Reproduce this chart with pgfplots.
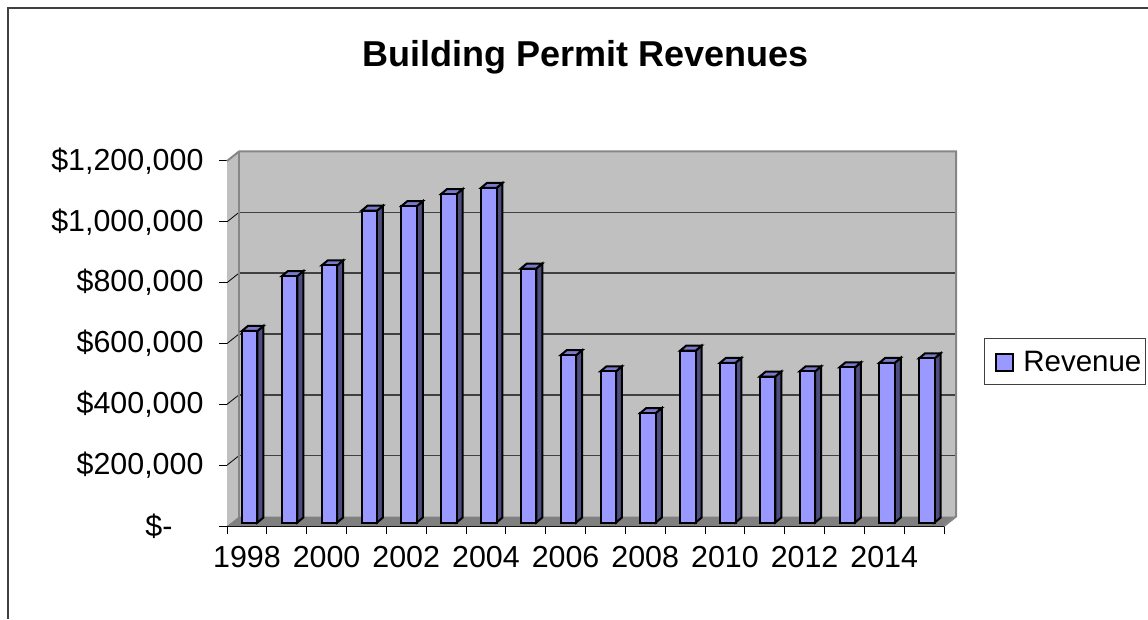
\documentclass[border=0pt]{standalone}
\usepackage{fontspec}
\usepackage{xfp}
\usepackage{pgfplots}
\pgfplotsset{compat=1.18}
\setmainfont{Liberation Sans}

\definecolor{wall}{HTML}{C0C0C0}
\definecolor{wallEdge}{HTML}{868686}
\definecolor{floorGray}{HTML}{808080}
\definecolor{gridDark}{HTML}{404040}
\definecolor{barFront}{HTML}{9999FF}
\definecolor{barSide}{HTML}{4D4D80}
\definecolor{barTop}{HTML}{7A7ACC}

% one picture pixel is 1pt
% year index / revenue
\def\revenues{0/630000,1/810000,2/845000,3/1025000,4/1040000,5/1080000,6/1100000,
  7/835000,8/550000,9/497000,10/360000,11/565000,12/525000,13/480000,14/497000,
  15/510000,16/525000,17/540000}
\def\wallDx{0.3013}
\def\wallDy{31236}
\def\barX{0.3766}
\def\barW{0.389}
\def\barDx{0.15}
\def\barDy{16440}
\def\barBase{11500}

\begin{document}
\begin{tikzpicture}[x=1pt,y=1pt]
\path[use as bounding box] (0,0) rectangle (1148,619);
\draw[gridDark,line width=1.7pt] (8,0) -- (8,611) -- (1148,611);

\begin{axis}[
  at={(227pt,93pt)}, anchor=south west,
  scale only axis, width=717pt, height=365pt,
  xmin=0, xmax=18, ymin=0, ymax=1200000,
  clip=false,
  axis x line=bottom, axis y line=left,
  axis line style={-, black, line width=1pt},
  tick align=outside,
  tick style={black, line width=1pt},
  major tick length=8pt,
  xtick={0,1,...,18},
  xticklabels={},
  extra x ticks={0.5,2.5,4.5,6.5,8.5,10.5,12.5,14.5,16.5},
  extra x tick labels={1998,2000,2002,2004,2006,2008,2010,2012,2014},
  extra x tick style={major tick length=0pt, tick style={draw=none}},
  scaled y ticks=false,
  ytick={0,200000,400000,600000,800000,1000000,1200000},
  yticklabels={{\$-\hspace*{31pt}},{\$200,000},{\$400,000},{\$600,000},{\$800,000},{\$1,000,000},{\$1,200,000}},
  tick label style={font=\fontsize{30.4}{34}\selectfont},
  xticklabel style={yshift=-17pt},
  yticklabel style={xshift=-12pt},
  title={Building Permit Revenues},
  title style={font=\fontsize{36}{40}\bfseries\selectfont,
    at={(axis description cs:0.5,1.242)}, anchor=base},
  legend style={at={(axis description cs:1.0562,0.3863)}, anchor=south west,
    draw=gridDark, line width=1pt, font=\fontsize{29.5}{34}\selectfont,
    inner xsep=2.5pt, inner ysep=10pt},
  legend image code/.code={
    \path[draw=none,fill=none] (0pt,0pt) -- (34pt,0pt);
    \draw[fill=barFront,draw=black,line width=2pt] (9pt,-9pt) rectangle (26pt,8pt);
  },
]
% walls and floor
\addplot[fill=wall,draw=none,forget plot] coordinates
  {(0,0) (\wallDx,\wallDy) (\wallDx,1231236) (0,1200000)} -- cycle;
\addplot[fill=wall,draw=none,forget plot] coordinates
  {(\wallDx,\wallDy) (18.3013,\wallDy) (18.3013,1231236) (\wallDx,1231236)} -- cycle;
\addplot[fill=floorGray,draw=none,forget plot] coordinates
  {(0,0) (18,0) (18.3013,\wallDy) (\wallDx,\wallDy)} -- cycle;

% gridlines on the wall and their steps on the side wall
\foreach \g in {200000,400000,600000,800000,1000000} {
  \edef\temp{\noexpand\addplot[gridDark,line width=1.4pt,forget plot] coordinates
    {(\wallDx,\fpeval{\g+\wallDy}) (18.3013,\fpeval{\g+\wallDy})};
    \noexpand\addplot[black,line width=0.8pt,forget plot] coordinates
    {(0,\g) (\wallDx,\fpeval{\g+\wallDy})};}
  \temp
}
\addplot[wallEdge,line width=2pt,forget plot] coordinates
  {(0,1200000) (\wallDx,1231236) (18.3013,1231236) (18.3013,\wallDy) (18,0)};
\addplot[wallEdge,line width=2pt,forget plot] coordinates
  {(\wallDx,\wallDy) (\wallDx,1231236)};

% bars: side, top, front
\foreach \i/\v in \revenues {
  \edef\xa{\fpeval{\i+\barX}}
  \edef\xb{\fpeval{\i+\barX+\barW}}
  \edef\xc{\fpeval{\i+\barX+\barW+\barDx}}
  \edef\xd{\fpeval{\i+\barX+\barDx}}
  \edef\ya{\fpeval{\barBase}}
  \edef\yb{\fpeval{\barBase+\barDy}}
  \edef\yc{\fpeval{\barBase+\v}}
  \edef\yd{\fpeval{\barBase+\v+\barDy}}
  \edef\temp{\noexpand\addplot[fill=barSide,draw=black,line width=2pt,forget plot] coordinates
    {(\xb,\ya) (\xc,\yb) (\xc,\yd) (\xb,\yc)} -- cycle;
    \noexpand\addplot[fill=barTop,draw=black,line width=2pt,forget plot] coordinates
    {(\xa,\yc) (\xb,\yc) (\xc,\yd) (\xd,\yd)} -- cycle;
    \noexpand\addplot[fill=barFront,draw=black,line width=2pt,forget plot] coordinates
    {(\xa,\ya) (\xb,\ya) (\xb,\yc) (\xa,\yc)} -- cycle;}
  \temp
}
\addlegendimage{barFront}
\addlegendentry{Revenue}
\end{axis}
\end{tikzpicture}
\end{document}
